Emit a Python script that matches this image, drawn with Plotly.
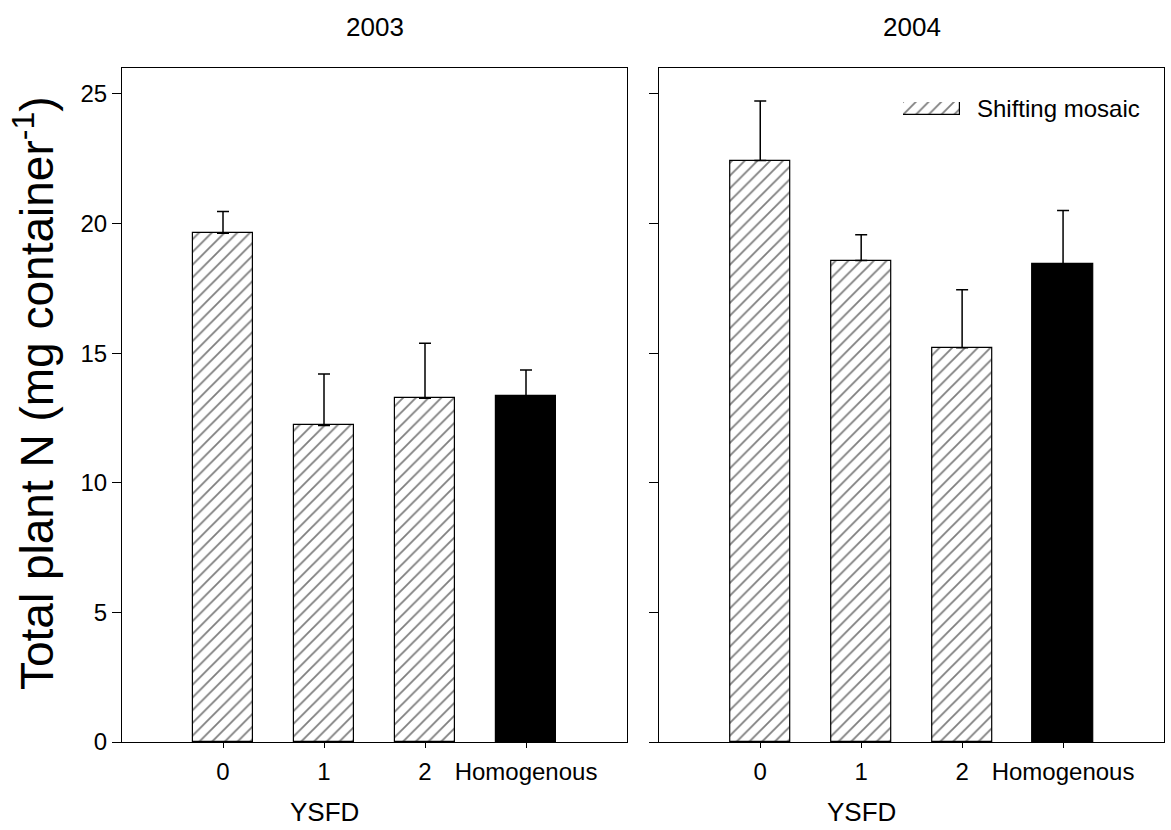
import plotly.graph_objects as go

categories = ["0", "1", "2", "Homogenous"]
years = ["2003", "2004"]
values_2003 = [19.63, 12.21, 13.26, 13.36]
errors_2003 = [0.83, 1.99, 2.12, 0.99]
values_2004 = [22.43, 18.57, 15.21, 18.44]
errors_2004 = [2.30, 1.00, 2.24, 2.06]
legend_label = "Shifting mosaic"
y_title = "Total plant N (mg container<sup>-1</sup>)"
x_title = "YSFD"
y_ticks = [0, 5, 10, 15, 20, 25]

FONT = "Liberation Sans, Arial, sans-serif"
W, H = 1171, 830
ML, MR, MT, MB = 122, 7, 68, 88
PW = W - ML - MR
PH = H - MT - MB

xpos = list(range(len(categories)))
is_hatch = [c != "Homogenous" for c in categories]

HATCH = dict(shape="/", fgcolor="black", bgcolor="white", size=9, solidity=0.2)

fig = go.Figure()

def add_panel(vals, errs, xa, ya):
    hx = [x for x, h in zip(xpos, is_hatch) if h]
    hv = [v for v, h in zip(vals, is_hatch) if h]
    he = [e for e, h in zip(errs, is_hatch) if h]
    sx = [x for x, h in zip(xpos, is_hatch) if not h]
    sv = [v for v, h in zip(vals, is_hatch) if not h]
    se = [e for e, h in zip(errs, is_hatch) if not h]
    err = lambda e: dict(type="data", array=e, arrayminus=[0] * len(e), symmetric=False,
                         color="black", thickness=1.5, width=6)
    fig.add_trace(go.Bar(x=hx, y=hv, width=0.6, xaxis=xa, yaxis=ya, showlegend=False,
                         marker=dict(color="white", line=dict(color="black", width=1.2),
                                     pattern=HATCH),
                         error_y=err(he)))
    fig.add_trace(go.Bar(x=sx, y=sv, width=0.6, xaxis=xa, yaxis=ya, showlegend=False,
                         marker=dict(color="black", line=dict(color="black", width=1.2)),
                         error_y=err(se)))

add_panel(values_2003, errors_2003, "x", "y")
add_panel(values_2004, errors_2004, "x2", "y2")

# legend swatch on its own small axis
fig.add_trace(go.Bar(x=[1], y=[0.5], base=[0], orientation="h", width=1, xaxis="x3", yaxis="y3",
                     showlegend=False, hoverinfo="skip",
                     marker=dict(color="white", line=dict(color="black", width=1.2),
                                 pattern=HATCH)))

d1 = [0, 505 / PW]
d2 = [(659.3 - ML) / PW, 1]

xcommon = dict(range=[-1, 4], tickvals=xpos, ticktext=categories, showline=True, linecolor="black",
               linewidth=1.2, mirror=True, ticks="outside", ticklen=5, tickcolor="black",
               ticklabelstandoff=3,
               showgrid=False, zeroline=False, tickfont=dict(family=FONT, size=24, color="black"))
ycommon = dict(range=[0, 26], tickvals=y_ticks, showline=True, linecolor="black", linewidth=1.2,
               mirror=True, ticks="outside", ticklen=9, tickcolor="black", showgrid=False,
               zeroline=False, tickfont=dict(family=FONT, size=24, color="black"))

lx0 = (903 - ML) / PW
lx1 = (960 - ML) / PW
ly0 = (H - MB - 115) / PH
ly1 = (H - MB - 102) / PH

fig.update_layout(
    width=W, height=H, margin=dict(l=ML, r=MR, t=MT, b=MB),
    paper_bgcolor="white", plot_bgcolor="white", bargap=0,
    xaxis=dict(domain=d1, anchor="y", **xcommon),
    yaxis=dict(domain=[0, 1], anchor="x", **ycommon),
    xaxis2=dict(domain=d2, anchor="y2", **xcommon),
    yaxis2=dict(domain=[0, 1], anchor="x2", showticklabels=False, **ycommon),
    xaxis3=dict(domain=[lx0, lx1], anchor="y3", range=[0, 1], visible=False, fixedrange=True),
    yaxis3=dict(domain=[ly0, ly1], anchor="x3", range=[0, 1], visible=False, fixedrange=True),
    showlegend=False,
    font=dict(family=FONT, color="black"),
)

def py(px):
    return (H - MB - px) / PH

ann = []
for i, (yr, xa) in enumerate(zip(years, ["x", "x2"])):
    dom = d1 if i == 0 else d2
    ann.append(dict(text=yr, xref="paper", yref="paper", x=(dom[0] + dom[1]) / 2, y=py(27),
                    showarrow=False, font=dict(family=FONT, size=26, color="black"),
                    xanchor="center", yanchor="middle"))
    ann.append(dict(text=x_title, xref=xa, yref="paper", x=1, y=py(812), showarrow=False,
                    font=dict(family=FONT, size=26, color="black"), xanchor="center", yanchor="middle"))
ann.append(dict(text=y_title, xref="paper", yref="paper", x=(34 - ML) / PW, y=py(393),
                textangle=-90, showarrow=False, font=dict(family=FONT, size=46, color="black"),
                xanchor="center", yanchor="middle"))
ann.append(dict(text=legend_label, xref="paper", yref="paper", x=(975 - ML) / PW, y=py(108),
                showarrow=False, font=dict(family=FONT, size=24, color="black"),
                xanchor="left", yanchor="middle"))
fig.update_layout(annotations=ann)

fig.write_html("out.html")
